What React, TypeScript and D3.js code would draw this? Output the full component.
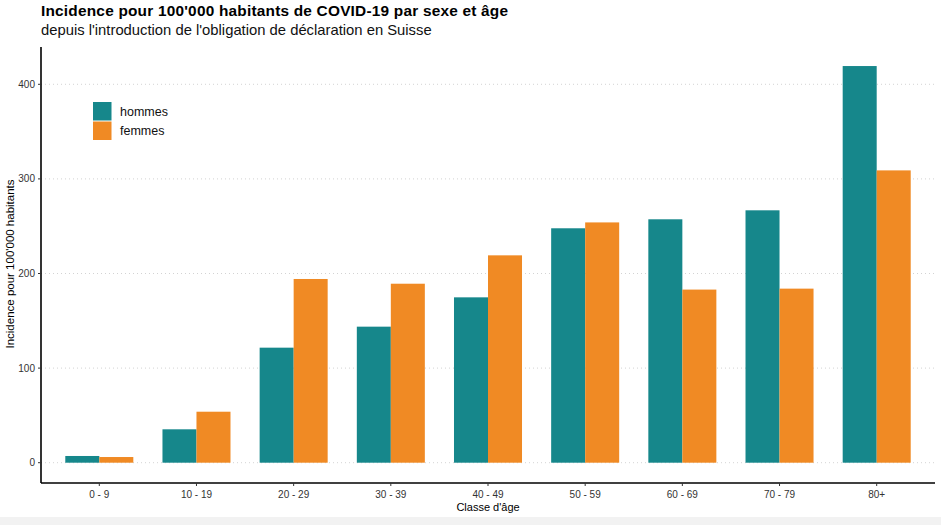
import * as d3 from "d3";

const ageGroups = ["0 - 9", "10 - 19", "20 - 29", "30 - 39", "40 - 49", "50 - 59", "60 - 69", "70 - 79", "80+"];
const sexes = ["hommes", "femmes"];
const hommes = [7.1, 35.3, 121.6, 143.8, 174.8, 247.8, 257.3, 266.8, 419.3];
const femmes = [6.0, 53.9, 194.2, 189.2, 219.2, 254.0, 183.0, 184.0, 309.0];
const yTicks = [0, 100, 200, 300, 400];
const colors = ["#16878b", "#f08a24"];

const W = 941;
const H = 525;
const left = 41;
const right = 935;
const top = 47;
const bottom = 483;

export default function App() {
  const x = d3
    .scaleBand()
    .domain(ageGroups)
    .range([left, right])
    .paddingInner(0.3)
    .paddingOuter(0.25);

  const xSub = d3.scaleBand().domain(sexes).range([0, x.bandwidth()]);

  const y = d3.scaleLinear().domain([0, 400]).range([462.7, 84.3]);

  const series = [hommes, femmes];
  const font = "Liberation Sans, Arial, sans-serif";

  return (
    <div style={{ position: "fixed", left: 0, top: 0 }}>
      <svg width={W} height={H} style={{ display: "block", fontFamily: font }}>
        <rect x={0} y={0} width={W} height={H} fill="#ffffff" />
        <rect x={0} y={517} width={W} height={H - 517} fill="#f2f2f2" />

        {/* title */}
        <text x={left} y={16} fontSize={15.4} fontWeight="bold" fill="#000" textLength={467} lengthAdjust="spacing">
          Incidence pour 100'000 habitants de COVID-19 par sexe et âge
        </text>
        <text x={left} y={35} fontSize={14.8} fill="#111">
          depuis l'introduction de l'obligation de déclaration en Suisse
        </text>

        {/* grid */}
        {yTicks.map((t) => (
          <line
            key={t}
            x1={left}
            x2={right}
            y1={y(t)}
            y2={y(t)}
            stroke="#c8c8c8"
            strokeWidth={0.8}
            strokeDasharray="1,3"
          />
        ))}

        {/* bars */}
        {ageGroups.map((g, i) => (
          <g key={g} transform={`translate(${x(g)},0)`}>
            {sexes.map((s, j) => (
              <rect
                key={s}
                x={xSub(s)}
                y={y(series[j][i])}
                width={xSub.bandwidth()}
                height={y(0) - y(series[j][i])}
                fill={colors[j]}
              />
            ))}
          </g>
        ))}

        {/* axes */}
        <line x1={left} x2={left} y1={top} y2={bottom} stroke="#000" strokeWidth={1.6} />
        <line x1={left} x2={right} y1={bottom} y2={bottom} stroke="#000" strokeWidth={1.6} />

        {yTicks.map((t) => (
          <g key={t}>
            <line x1={left - 3} x2={left} y1={y(t)} y2={y(t)} stroke="#333" strokeWidth={1} />
            <text x={left - 6} y={y(t)} dy="0.35em" textAnchor="end" fontSize={10} fill="#333">
              {t}
            </text>
          </g>
        ))}

        {ageGroups.map((g) => {
          const cx = (x(g) ?? 0) + x.bandwidth() / 2;
          return (
            <g key={g}>
              <line x1={cx} x2={cx} y1={bottom} y2={bottom + 3} stroke="#333" strokeWidth={1} />
              <text x={cx} y={bottom + 15} textAnchor="middle" fontSize={10} fill="#333">
                {g}
              </text>
            </g>
          );
        })}

        <text x={(left + right) / 2} y={511} textAnchor="middle" fontSize={11} fill="#000">
          Classe d'âge
        </text>
        <text
          transform={`translate(13.5,264) rotate(-90)`}
          textAnchor="middle"
          fontSize={11.5}
          fill="#000"
        >
          Incidence pour 100'000 habitants
        </text>

        {/* legend */}
        {sexes.map((s, j) => (
          <g key={s} transform={`translate(93,${102 + j * 19.5})`}>
            <rect x={0} y={0} width={18.5} height={18.5} fill={colors[j]} />
            <text x={27} y={9.5} dy="0.35em" fontSize={12.5} fill="#111">
              {s}
            </text>
          </g>
        ))}
      </svg>
    </div>
  );
}
